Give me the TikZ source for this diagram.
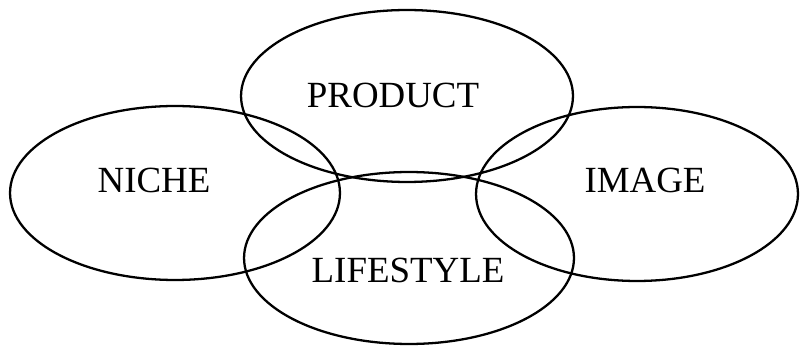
\documentclass[tikz,border=0pt]{standalone}
\usepackage{fontspec}
\setmainfont{Liberation Serif}
\usetikzlibrary{shapes.geometric}

\begin{document}
\begin{tikzpicture}[
			x=0.02cm, y=-0.02cm,
			ring style/.style={
				draw,
				ellipse,
				line width=1.3pt,
				inner sep=0pt,
				fill=none
			},
			word style/.style={
				font=\fontsize{21}{25}\selectfont,
				inner sep=0pt
			}
			]
			
			\useasboundingbox (0,0) rectangle (800,347);
			
			\node[ring style, minimum width=6.6cm, minimum height=3.48cm] (niche) at (175,193) {};
			\node[ring style, minimum width=6.64cm, minimum height=3.44cm] (product) at (407,96) {};
			\node[ring style, minimum width=6.44cm, minimum height=3.48cm] (image) at (637,194) {};
			\node[ring style, minimum width=6.6cm, minimum height=3.44cm] (lifestyle) at (409,258) {};
			
			\node[word style] (niche label) at (154,180) {NICHE};
			\node[word style] (product label) at (393,95) {PRODUCT};
			\node[word style] (image label) at (645,180) {IMAGE};
			\node[word style] (lifestyle label) at (408,270) {LIFESTYLE};
			
		\end{tikzpicture}
\end{document}
